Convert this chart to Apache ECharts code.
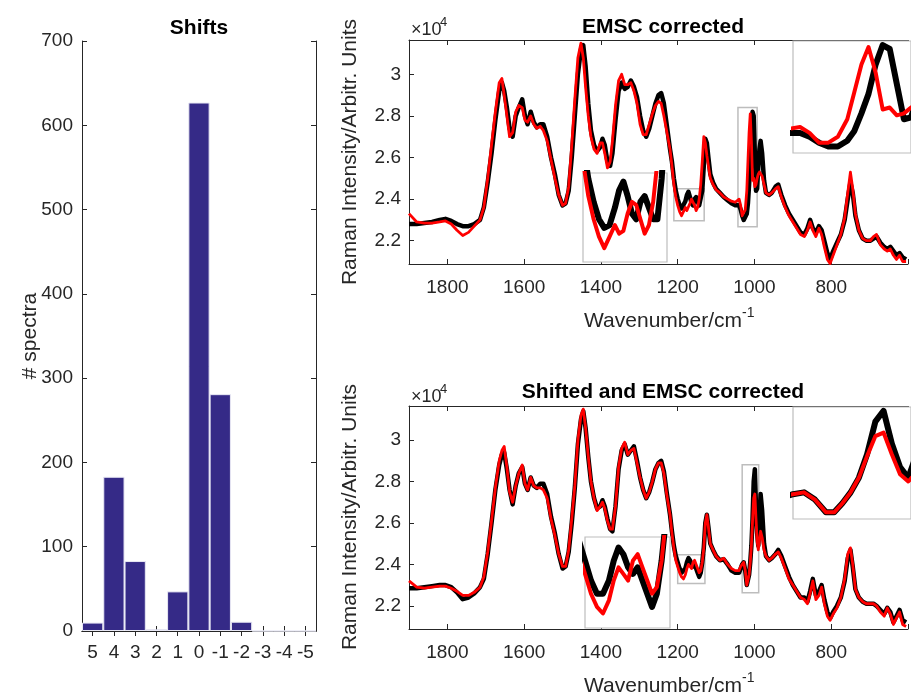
<!DOCTYPE html>
<html>
<head>
<meta charset="utf-8">
<script src="https://cdn.jsdelivr.net/npm/echarts@6/dist/echarts.min.js"></script>
<style>
  html, body { margin: 0; padding: 0; background: #fff; }
  #chart { width: 911px; height: 695px; }
</style>
</head>
<body>
<div id="chart"></div>
<script>
// histogram of applied shifts
const shiftLabels = ['5', '4', '3', '2', '1', '0', '-1', '-2', '-3', '-4', '-5'];
const shiftCounts = [10, 183, 83, 2, 47, 627, 281, 11, 0, 0, 0];

// wavenumber grid (cm-1)
const wavenumber = [
  1900, 1880, 1860, 1840, 1820, 1805, 1790, 1775, 1760, 1745, 1730, 1715, 1705,
  1695, 1685, 1675, 1665, 1658, 1652, 1645, 1638, 1630, 1622, 1614, 1605, 1598, 1591,
  1583, 1575, 1567, 1558, 1550, 1540, 1530, 1520, 1510, 1500, 1492, 1484,
  1476, 1468, 1460, 1452, 1446, 1440, 1433, 1426, 1418, 1410, 1402,
  1396, 1390, 1383, 1376, 1370, 1362, 1354, 1346, 1338, 1330, 1322, 1314, 1306,
  1298, 1290, 1282, 1274, 1266, 1258, 1250, 1243, 1236, 1228, 1220,
  1215, 1210, 1205, 1200, 1195, 1190, 1185, 1180, 1176, 1172, 1168, 1164, 1160, 1156, 1152, 1148, 1144, 1140, 1136, 1132, 1128, 1124, 1120, 1115,
  1108, 1100, 1090, 1080, 1070, 1060, 1050,
  1045, 1040, 1036, 1032, 1028, 1024, 1020, 1017, 1014, 1011, 1008, 1005, 1002, 999, 996, 993, 990, 987, 984, 980, 975, 970,
  962, 955, 945, 938, 930, 920, 910, 900, 890, 880,
  870, 862, 855, 848, 840, 832, 825, 818, 810, 803, 795,
  785, 775, 765, 757, 750, 744, 737, 728, 718, 708, 698, 690, 682, 672, 662, 654, 646, 638, 630, 622, 614, 605
];

// intensities in units of 1e4
const emscBlack = [
  2.28, 2.28, 2.285, 2.29, 2.30, 2.305, 2.295, 2.28, 2.27, 2.27, 2.28, 2.30, 2.36,
  2.48, 2.62, 2.78, 2.92, 2.96, 2.92, 2.84, 2.74, 2.70, 2.80, 2.84, 2.88, 2.80, 2.76,
  2.82, 2.77, 2.745, 2.76, 2.76, 2.70, 2.60, 2.52, 2.42, 2.37, 2.38, 2.44,
  2.60, 2.80, 3.00, 3.12, 3.14, 3.04, 2.86, 2.73, 2.66, 2.63, 2.65,
  2.69, 2.66, 2.58, 2.56, 2.62, 2.78, 2.92, 2.96, 2.93, 2.94, 2.97, 2.94, 2.89,
  2.80, 2.73, 2.70, 2.74, 2.80, 2.86, 2.90, 2.91, 2.86, 2.75, 2.64,
  2.58, 2.50, 2.44, 2.40, 2.37, 2.355, 2.36, 2.39, 2.42, 2.435, 2.41, 2.38, 2.37, 2.40, 2.41, 2.39, 2.37, 2.37, 2.44, 2.56, 2.69, 2.67, 2.60, 2.52,
  2.48, 2.45, 2.43, 2.41, 2.395, 2.38, 2.37,
  2.37, 2.37, 2.35, 2.32, 2.30, 2.30, 2.33, 2.38, 2.47, 2.57, 2.72, 2.82, 2.80, 2.62, 2.44, 2.45, 2.56, 2.64, 2.68, 2.62, 2.49, 2.43,
  2.42, 2.43, 2.46, 2.47, 2.42, 2.37, 2.33, 2.30, 2.27, 2.24,
  2.23, 2.26, 2.30, 2.26, 2.24, 2.27, 2.25, 2.20, 2.14, 2.11, 2.15,
  2.19, 2.23, 2.30, 2.40, 2.48, 2.43, 2.32, 2.25, 2.21, 2.20, 2.20, 2.21, 2.22, 2.19, 2.17, 2.16, 2.17, 2.15, 2.13, 2.14, 2.12, 2.11
];
const emscRed = [
  2.33, 2.29, 2.285, 2.285, 2.29, 2.295, 2.28, 2.25, 2.225, 2.24, 2.27, 2.30, 2.36,
  2.50, 2.66, 2.82, 2.96, 2.98, 2.90, 2.80, 2.70, 2.72, 2.82, 2.85, 2.84, 2.78, 2.77,
  2.80, 2.76, 2.74, 2.75, 2.73, 2.68, 2.59, 2.50, 2.42, 2.37, 2.38, 2.46,
  2.66, 2.88, 3.08, 3.15, 3.08, 2.94, 2.80, 2.70, 2.64, 2.62, 2.67,
  2.67, 2.62, 2.55, 2.58, 2.68, 2.85, 2.97, 3.00, 2.95, 2.95, 2.96, 2.92, 2.86,
  2.76, 2.71, 2.71, 2.76, 2.81, 2.85, 2.87, 2.86, 2.80, 2.72, 2.64,
  2.56, 2.47, 2.41, 2.37, 2.34, 2.32, 2.34, 2.36, 2.345, 2.35, 2.38, 2.40, 2.395, 2.37, 2.345, 2.36, 2.40, 2.47, 2.58, 2.70, 2.67, 2.61, 2.56, 2.50,
  2.47, 2.445, 2.43, 2.41, 2.40, 2.39, 2.385,
  2.39, 2.40, 2.37, 2.32, 2.32, 2.35, 2.44, 2.58, 2.72, 2.81, 2.68, 2.49, 2.50, 2.46, 2.47, 2.50, 2.52, 2.53, 2.53, 2.51, 2.47, 2.43,
  2.42, 2.43, 2.45, 2.46, 2.41, 2.36, 2.32, 2.29, 2.26, 2.23,
  2.22, 2.25, 2.29, 2.25, 2.22, 2.26, 2.23, 2.17, 2.11, 2.09, 2.13,
  2.18, 2.23, 2.31, 2.43, 2.53, 2.45, 2.33, 2.25, 2.21, 2.20, 2.20, 2.22, 2.23, 2.18, 2.16, 2.15, 2.16, 2.13, 2.11, 2.13, 2.10, 2.10
];
const shiftedBlack = [
  2.285, 2.285, 2.29, 2.295, 2.30, 2.30, 2.29, 2.265, 2.232, 2.24, 2.26, 2.29, 2.33,
  2.45, 2.60, 2.76, 2.88, 2.93, 2.94, 2.86, 2.76, 2.69, 2.78, 2.84, 2.87, 2.79, 2.76,
  2.82, 2.78, 2.77, 2.79, 2.79, 2.74, 2.63, 2.55, 2.45, 2.38, 2.39, 2.46,
  2.60, 2.77, 2.98, 3.10, 3.14, 3.06, 2.92, 2.80, 2.72, 2.67, 2.68,
  2.71, 2.68, 2.62, 2.57, 2.56, 2.68, 2.86, 2.95, 2.98, 2.93, 2.95, 2.97, 2.90,
  2.82, 2.76, 2.72, 2.75, 2.80, 2.86, 2.89, 2.90, 2.85, 2.74, 2.64,
  2.56, 2.49, 2.44, 2.41, 2.38, 2.36, 2.36, 2.38, 2.41, 2.43, 2.42, 2.40, 2.39, 2.40, 2.38, 2.36, 2.34, 2.36, 2.41, 2.48, 2.60, 2.64, 2.58, 2.50,
  2.47, 2.44, 2.42, 2.425, 2.40, 2.37, 2.36,
  2.36, 2.36, 2.38, 2.40, 2.41, 2.37, 2.30, 2.30, 2.35, 2.41, 2.49, 2.62, 2.80, 2.86, 2.68, 2.55, 2.49, 2.62, 2.74, 2.66, 2.50, 2.44,
  2.42, 2.43, 2.45, 2.47, 2.44, 2.39, 2.34, 2.30, 2.27, 2.24,
  2.24, 2.22, 2.27, 2.33, 2.25, 2.27, 2.30, 2.23, 2.17, 2.14, 2.17,
  2.20, 2.24, 2.32, 2.43, 2.47, 2.39, 2.28, 2.24, 2.22, 2.21, 2.21, 2.21, 2.20, 2.18, 2.16, 2.19, 2.17, 2.12, 2.15, 2.18, 2.13, 2.12
];
const shiftedRed = [
  2.32, 2.29, 2.285, 2.29, 2.295, 2.295, 2.285, 2.27, 2.25, 2.25, 2.265, 2.29, 2.34,
  2.46, 2.61, 2.77, 2.90, 2.95, 2.97, 2.87, 2.75, 2.70, 2.78, 2.84, 2.88, 2.79, 2.76,
  2.82, 2.78, 2.77, 2.77, 2.76, 2.72, 2.62, 2.54, 2.45, 2.39, 2.39, 2.47,
  2.62, 2.78, 3.00, 3.12, 3.15, 3.06, 2.92, 2.80, 2.72, 2.66, 2.68,
  2.70, 2.67, 2.61, 2.57, 2.57, 2.68, 2.87, 2.96, 2.99, 2.93, 2.95, 2.96, 2.89,
  2.82, 2.76, 2.72, 2.75, 2.80, 2.86, 2.89, 2.89, 2.84, 2.73, 2.64,
  2.55, 2.48, 2.42, 2.39, 2.36, 2.34, 2.33, 2.35, 2.38, 2.40, 2.39, 2.38, 2.41, 2.42, 2.40, 2.38, 2.36, 2.37, 2.41, 2.48, 2.60, 2.64, 2.58, 2.50,
  2.47, 2.44, 2.42, 2.43, 2.40, 2.38, 2.37,
  2.37, 2.37, 2.39, 2.40, 2.41, 2.37, 2.30, 2.30, 2.35, 2.41, 2.49, 2.61, 2.72, 2.74, 2.62, 2.51, 2.47, 2.52, 2.56, 2.53, 2.47, 2.44,
  2.42, 2.43, 2.45, 2.46, 2.43, 2.38, 2.33, 2.30, 2.27, 2.24,
  2.23, 2.21, 2.26, 2.32, 2.23, 2.25, 2.29, 2.21, 2.15, 2.13, 2.16,
  2.19, 2.24, 2.33, 2.45, 2.48, 2.40, 2.28, 2.24, 2.22, 2.21, 2.21, 2.21, 2.20, 2.17, 2.15, 2.19, 2.16, 2.11, 2.14, 2.17, 2.11, 2.10
];

const intensityTicks = [2.2, 2.4, 2.6, 2.8, 3];

// zoom windows [wnLow, wnHigh, yLow, yHigh] shown as boxes and enlarged in insets
const emscZooms = [[1131, 1210, 2.296, 2.45], [993, 1043, 2.267, 2.841]];
const shiftedZooms = [[1129, 1200, 2.308, 2.446], [989, 1032, 2.263, 2.881]];

const FONT = '"Liberation Sans", Arial, Helvetica, sans-serif';
const INK = '#262626';
const BOX = '#bdbdbd';

const chart = echarts.init(document.getElementById('chart'), null, { renderer: 'canvas' });

const pts = vals => wavenumber.map((w, i) => [w, vals[i]]);

const grids = [
  { left: 82, right: 595, top: 41, bottom: 64 },            // 0 shifts
  { left: 409, right: -6, top: 40, bottom: 431 },           // 1 EMSC
  { left: 409, right: -6, top: 406, bottom: 66 },           // 2 shifted
  { left: 583, top: 173, width: 84, height: 89 },           // 3 inset
  { left: 793, top: 41, width: 122, height: 112 },          // 4 inset
  { left: 585, top: 537, width: 85, height: 91 },           // 5 inset
  { left: 793, top: 407, width: 122, height: 112 }          // 6 inset
];
grids.slice(3).forEach(g => Object.assign(g, {
  show: true, z: 5, backgroundColor: '#fff', borderColor: BOX, borderWidth: 1.2
}));

const tickStyle = { show: true, inside: true, length: 5, lineStyle: { color: INK } };
const lineStyle = { show: true, lineStyle: { color: INK, width: 1 } };
const labelStyle = { color: INK, fontFamily: FONT, fontSize: 19 };

function specX(gridIndex, pos) {
  return {
    type: 'value', gridIndex, position: pos, min: 600, max: 1900, interval: 200, inverse: true,
    axisLine: lineStyle, axisTick: tickStyle, splitLine: { show: false },
    axisLabel: pos === 'bottom'
      ? Object.assign({ margin: 14, formatter: v => (v === 600 ? '' : String(v)) }, labelStyle)
      : { show: false }
  };
}
function specY(gridIndex) {
  return {
    type: 'value', gridIndex, min: 2.088, max: 3.165,
    axisLine: lineStyle, splitLine: { show: false },
    axisTick: Object.assign({ customValues: intensityTicks }, tickStyle),
    axisLabel: Object.assign({ customValues: intensityTicks, margin: 8 }, labelStyle)
  };
}
function insetX(gridIndex, z) {
  return { type: 'value', gridIndex, show: false, min: z[0], max: z[1], inverse: true };
}
function insetY(gridIndex, z) {
  return { type: 'value', gridIndex, show: false, min: z[2], max: z[3] };
}

const xAxis = [
  { type: 'category', gridIndex: 0, data: shiftLabels, position: 'bottom',
    axisLine: lineStyle, axisTick: Object.assign({ alignWithLabel: true, interval: 0 }, tickStyle),
    axisLabel: Object.assign({ margin: 12, interval: 0 }, labelStyle) },
  { type: 'category', gridIndex: 0, data: shiftLabels, position: 'top',
    axisLine: lineStyle, axisTick: Object.assign({ alignWithLabel: true, interval: 0 }, tickStyle),
    axisLabel: { show: false } },
  specX(1, 'bottom'), specX(1, 'top'),
  specX(2, 'bottom'), specX(2, 'top'),
  insetX(3, emscZooms[0]), insetX(4, emscZooms[1]),
  insetX(5, shiftedZooms[0]), insetX(6, shiftedZooms[1])
];
const yAxis = [
  { type: 'value', gridIndex: 0, min: 0, max: 700, interval: 100, position: 'left',
    axisLine: lineStyle, axisTick: tickStyle, splitLine: { show: false },
    axisLabel: Object.assign({ margin: 9 }, labelStyle) },
  { type: 'value', gridIndex: 0, min: 0, max: 700, interval: 100, position: 'right',
    axisLine: lineStyle, axisTick: tickStyle, splitLine: { show: false }, axisLabel: { show: false } },
  specY(1), specY(2),
  insetY(3, emscZooms[0]), insetY(4, emscZooms[1]),
  insetY(5, shiftedZooms[0]), insetY(6, shiftedZooms[1])
];

function spectrum(vals, color, width, xi, yi, z, zooms) {
  const s = {
    type: 'line', data: pts(vals), xAxisIndex: xi, yAxisIndex: yi, z,
    showSymbol: false, symbol: 'none', silent: true, animation: false,
    lineStyle: { color, width, join: 'round' }
  };
  if (zooms) {
    s.markArea = {
      silent: true,
      itemStyle: { color: 'rgba(0,0,0,0)', borderColor: BOX, borderWidth: 1.5 },
      data: zooms.map(b => [{ coord: [b[1], b[3]] }, { coord: [b[0], b[2]] }])
    };
  }
  return s;
}

const series = [
  { type: 'bar', xAxisIndex: 0, yAxisIndex: 0, data: shiftCounts, barCategoryGap: '0%',
    itemStyle: { color: '#352a87', borderColor: '#e8e8f4', borderWidth: 1 }, animation: false, silent: true },
  spectrum(emscBlack, '#000', 4.5, 2, 2, 2),
  spectrum(emscRed, '#ff0000', 2.8, 2, 2, 3, emscZooms),
  spectrum(shiftedBlack, '#000', 4.5, 4, 3, 2),
  spectrum(shiftedRed, '#ff0000', 2.8, 4, 3, 3, shiftedZooms),
  spectrum(emscBlack, '#000', 6, 6, 4, 6),
  spectrum(emscRed, '#ff0000', 4, 6, 4, 7),
  spectrum(emscBlack, '#000', 6, 7, 5, 6),
  spectrum(emscRed, '#ff0000', 4, 7, 5, 7),
  spectrum(shiftedBlack, '#000', 6, 8, 6, 6),
  spectrum(shiftedRed, '#ff0000', 4, 8, 6, 7),
  spectrum(shiftedBlack, '#000', 6, 9, 7, 6),
  spectrum(shiftedRed, '#ff0000', 4, 9, 7, 7)
];

function txt(text, x, y, size, opts) {
  opts = opts || {};
  return {
    type: 'text', x, y, rotation: opts.rot || 0, z: 20,
    style: {
      text, fill: opts.color || INK,
      font: (opts.bold ? 'bold ' : '') + size + 'px ' + FONT,
      textAlign: opts.align || 'center', align: opts.align || 'center',
      textVerticalAlign: 'middle', verticalAlign: 'middle'
    }
  };
}

const graphic = [
  txt('Shifts', 199, 28, 21, { bold: true, color: '#000' }),
  txt('# spectra', 30, 336, 21, { rot: Math.PI / 2 }),
  txt('EMSC corrected', 663, 27, 21, { bold: true, color: '#000' }),
  txt('Shifted and EMSC corrected', 663, 392, 21, { bold: true, color: '#000' }),
  txt('Raman Intensity/Arbitr. Units', 350, 152, 21, { rot: Math.PI / 2 }),
  txt('Raman Intensity/Arbitr. Units', 350, 517, 21, { rot: Math.PI / 2 }),
  txt('\u00d710', 411, 30, 18, { align: 'left' }),
  txt('4', 440, 22, 13, { align: 'left' }),
  txt('\u00d710', 411, 397, 18, { align: 'left' }),
  txt('4', 440, 389, 13, { align: 'left' }),
  txt('Wavenumber/cm', 742, 321, 21, { align: 'right' }),
  txt('-1', 742, 313, 14, { align: 'left' }),
  txt('Wavenumber/cm', 742, 686, 21, { align: 'right' }),
  txt('-1', 742, 678, 14, { align: 'left' })
];

chart.setOption({
  animation: false,
  backgroundColor: '#fff',
  grid: grids,
  xAxis,
  yAxis,
  series,
  graphic
});
</script>
</body>
</html>
